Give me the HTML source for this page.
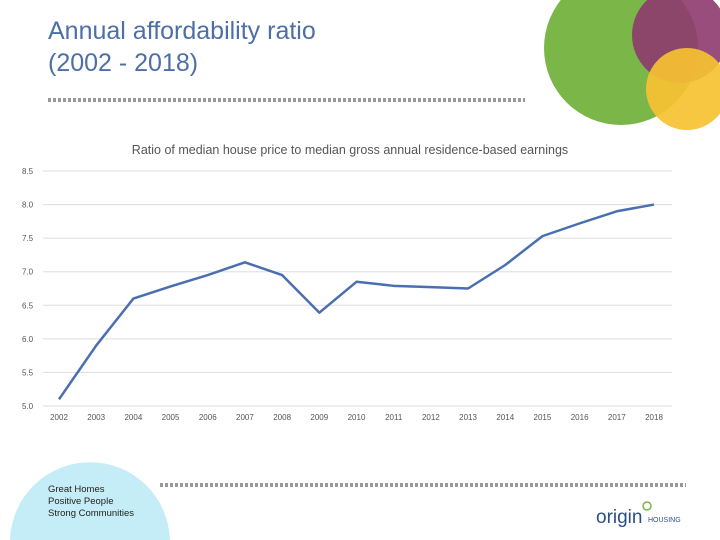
<!DOCTYPE html>
<html><head><meta charset="utf-8"><style>
html,body{margin:0;width:720px;height:540px;overflow:hidden}
body{background:#fff;font-family:"Liberation Sans",sans-serif;position:relative}
.t{position:absolute;left:48px;top:15px;font-size:25px;color:#4e6fa6;line-height:32px}
.tag{position:absolute;left:48px;top:484px;font-size:9.5px;color:#222;line-height:12px}
svg{position:absolute;left:0;top:0;overflow:hidden}
</style></head><body>
<svg width="720" height="540">
<circle cx="621" cy="48" r="77" fill="#7ab648"/>
<circle cx="680" cy="35" r="48" fill="#8e3a6e" opacity="0.9"/>
<circle cx="687" cy="89" r="41" fill="#f6c232" opacity="0.92"/>
<path d="M10.03,540 A80 80 0 0 1 169.97,540 Z" fill="#c5edf7"/>
<line x1="48" y1="100" x2="525" y2="100" stroke="#999" stroke-width="4" stroke-dasharray="3,2"/>
<line x1="160" y1="485" x2="686" y2="485" stroke="#999" stroke-width="4" stroke-dasharray="3,2"/>
<text x="596" y="523" font-size="19" fill="#2a4f8a" font-family="Liberation Sans,sans-serif">origin</text>
<text x="648" y="522" font-size="7" fill="#2a4f8a" font-family="Liberation Sans,sans-serif">HOUSING</text>
<circle cx="647" cy="506" r="4" fill="none" stroke="#7ab648" stroke-width="1.5"/>
</svg>
<div class="t">Annual affordability ratio<br>(2002 - 2018)</div>
<div class="tag">Great Homes<br>Positive People<br>Strong Communities</div>
<svg id="c" width="720" height="540"></svg>
<script>
const years=["2002","2003","2004","2005","2006","2007","2008","2009","2010","2011","2012","2013","2014","2015","2016","2017","2018"];
const ratios=[5.1,5.9,6.6,6.78,6.95,7.14,6.95,6.39,6.85,6.79,6.77,6.75,7.1,7.53,7.72,7.9,8.0];
const yTicks=[5.0,5.5,6.0,6.5,7.0,7.5,8.0,8.5];
const NS="http://www.w3.org/2000/svg",svg=document.getElementById('c');
const yS=v=>406-(v-5)*(235/3.5);
const xS=i=>59+i*(595/(years.length-1));
function mk(t,a){const e=document.createElementNS(NS,t);for(const k in a)e.setAttribute(k,a[k]);svg.appendChild(e);return e;}
const ti=mk('text',{x:350,y:154,'font-size':12.5,fill:'#555','text-anchor':'middle','font-family':'Liberation Sans,sans-serif'});
ti.textContent='Ratio of median house price to median gross annual residence-based earnings';


yTicks.forEach(v=>{
const l=mk('line',{x1:43,x2:672,y1:yS(v),y2:yS(v),stroke:'#ddd','stroke-width':1});


const t=mk('text',{x:22,y:yS(v)+3,'font-size':8,fill:'#555','font-family':'Liberation Sans,sans-serif'});
t.textContent=v.toFixed(1);


});
years.forEach((y,i)=>{
const t=mk('text',{x:xS(i),y:420,'font-size':8,fill:'#555','text-anchor':'middle','font-family':'Liberation Sans,sans-serif'});
t.textContent=y;


});
const p=mk('polyline',{points:ratios.map((v,i)=>xS(i)+','+yS(v)).join(' '),fill:'none',stroke:'#4a6fb0','stroke-width':2.5,'stroke-linejoin':'round'});


</script>
</body></html>
